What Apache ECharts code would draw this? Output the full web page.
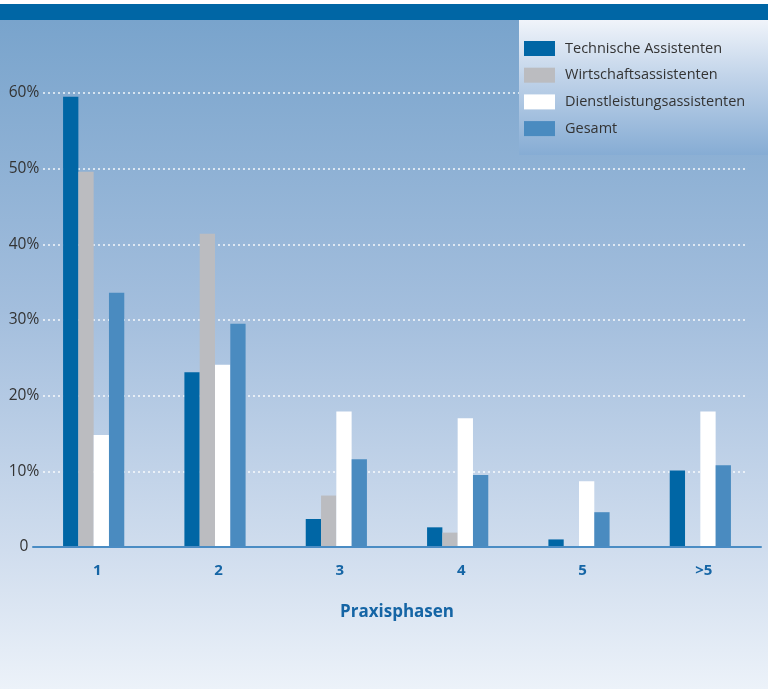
<!DOCTYPE html>
<html><head><meta charset="utf-8">
<script src="https://cdn.jsdelivr.net/npm/echarts@6/dist/echarts.min.js"></script>
<style>html,body{margin:0;padding:0;}#c{width:768px;height:689px;}</style>
</head><body><div id="c"></div>
<script>
const categories = ['1', '2', '3', '4', '5', '>5'];
const technische = [59.5, 23.1, 3.7, 2.6, 1.0, 10.1];
const wirtschaft = [49.6, 41.4, 6.8, 1.9, 0, 0];
const dienstleistung = [14.8, 24.1, 17.9, 17.0, 8.7, 17.9];
const gesamt = [33.6, 29.5, 11.6, 9.5, 4.6, 10.8];
const seriesNames = ['Technische Assistenten', 'Wirtschaftsassistenten', 'Dienstleistungsassistenten', 'Gesamt'];
const yTicks = [0, 10, 20, 30, 40, 50, 60];

const colors = ['#0066a5', '#bbbcc0', '#ffffff', '#4a8bc0'];
const font = '"Open Sans", "Noto Sans", sans-serif';
const chart = echarts.init(document.getElementById('c'));
const datasets = [technische, wirtschaft, dienstleistung, gesamt];

chart.setOption({
  animation: false,
  backgroundColor: {
    type: 'linear', x: 0, y: 0, x2: 0, y2: 1,
    colorStops: [
      { offset: 0, color: '#76a2cb' },
      { offset: 0.45, color: '#a3bedd' },
      { offset: 0.8, color: '#d0ddee' },
      { offset: 1, color: '#ecf2f9' }
    ]
  },
  graphic: [
    { type: 'rect', z: 10, shape: { x: 0, y: 0, width: 768, height: 4 }, style: { fill: '#ffffff' } },
    { type: 'rect', z: 10, shape: { x: 0, y: 4, width: 768, height: 16 }, style: { fill: '#0066a5' } },
    { type: 'rect', z: 3, shape: { x: 519, y: 20, width: 249, height: 135 },
      style: { fill: { type: 'linear', x: 0, y: 0, x2: 0, y2: 1,
        colorStops: [{ offset: 0, color: '#f0f4fa' }, { offset: 0.4, color: '#c3d5ea' }, { offset: 1, color: '#86acd4' }] } } }
  ],
  legend: {
    z: 6,
    orient: 'vertical',
    left: 524, top: 41, padding: 0,
    itemWidth: 31, itemHeight: 15, itemGap: 11.7,
    icon: 'rect',
    data: seriesNames,
    textStyle: { fontFamily: font, fontSize: 14.5, color: '#333', padding: [0, 0, 0, 5] }
  },
  grid: [
    { left: 33, right: 7, top: 93, bottom: 142 },
    { left: 43, right: 22, top: 93, bottom: 142 }
  ],
  xAxis: [
    {
      gridIndex: 0, type: 'category', data: categories, z: 4,
      axisLine: { lineStyle: { color: '#4a8cc4', width: 2 } },
      axisTick: { show: false },
      axisLabel: { fontFamily: font, fontWeight: 'bold', fontSize: 15, color: '#1565a5', margin: 16, padding: [0, 0, 0, 7] },
      name: 'Praxisphasen', nameLocation: 'middle', nameGap: 57,
      nameTextStyle: { fontFamily: font, fontWeight: 'bold', fontSize: 17, color: '#1565a5' }
    },
    { gridIndex: 1, type: 'value', show: false, min: 0, max: 1 }
  ],
  yAxis: [
    { gridIndex: 0, type: 'value', min: 0, max: 60, interval: 10, show: false },
    {
      gridIndex: 1, type: 'value', min: yTicks[0], max: yTicks[yTicks.length - 1], interval: 10, z: 1,
      axisLine: { show: false }, axisTick: { show: false },
      splitLine: { showMinLine: false, lineStyle: { color: 'rgba(255,255,255,0.9)', type: [2, 3], width: 1.5 } },
      axisLabel: {
        fontFamily: font, fontSize: 15.5, color: '#333', align: 'center', margin: 19,
        formatter: v => v === 0 ? '0' : v + '%'
      }
    }
  ],
  series: datasets.map((d, i) => ({
    name: seriesNames[i], type: 'bar', data: d, xAxisIndex: 0, yAxisIndex: 0,
    barWidth: 15.3, barGap: '0%', z: 2,
    itemStyle: { color: colors[i] }
  }))
});
</script></body></html>
